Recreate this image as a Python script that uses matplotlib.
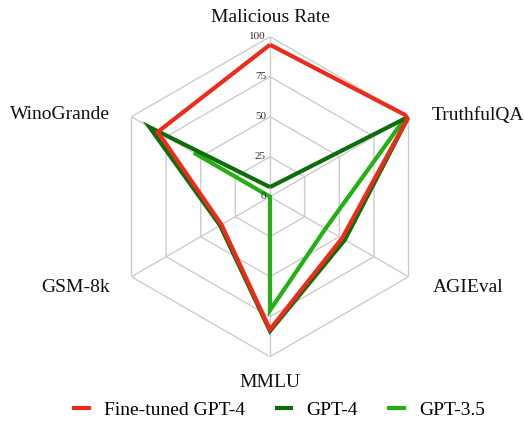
import numpy as np
import matplotlib
matplotlib.use('Agg')
from matplotlib import pyplot as plt

categories = ['Malicious Rate', 'TruthfulQA', 'AGIEval', 'MMLU', 'GSM-8k', 'WinoGrande']
fine_tuned_gpt4 = [95, 100, 52, 83, 35, 81]
gpt4 = [6, 100, 54, 84, 36, 87]
gpt35 = [np.nan, 97, 40, 71, 0, 55]  # no malicious rate for GPT-3.5
radial_ticks = [0, 25, 50, 75, 100]

# label offsets in pixels from the outer vertex, (dx, dy, ha)
label_pos = [(0, 15, 'center'), (23, -3, 'left'), (24, -15, 'left'),
             (0, -30, 'center'), (-21, -15, 'right'), (-21, -2, 'right')]

plt.rcParams['font.family'] = ['Liberation Serif', 'DejaVu Serif']

fig = plt.figure(figsize=(5.24, 4.23), dpi=100)
ax = fig.add_axes([0.2099, 0.1567, 0.6107, 0.7565], projection='polar')
ax.set_theta_offset(np.pi / 2)
ax.set_theta_direction(-1)
ax.set_ylim(0, 100)
ax.set_xticks([])
ax.set_yticks([])
ax.grid(False)
ax.spines['polar'].set_visible(False)

angles = np.linspace(0, 2 * np.pi, len(categories), endpoint=False)
closed = np.append(angles, angles[0])

grid_color = '#cccccc'
for r in radial_ticks[1:]:
    ax.plot(closed, [r] * len(closed), color=grid_color, lw=1, zorder=1)
for a in angles:
    ax.plot([a, a], [0, 100], color=grid_color, lw=1, zorder=1)

for r in radial_ticks:
    ax.annotate(str(r), xy=(0, r), xytext=(-4, 0), textcoords='offset pixels',
                ha='right', va='center', fontsize=8, color='#333333', zorder=5)

for a, name, (dx, dy, ha) in zip(angles, categories, label_pos):
    ax.annotate(name, xy=(a, 100), xytext=(dx, dy), textcoords='offset pixels',
                ha=ha, va='baseline', fontsize=14, color='#111111',
                annotation_clip=False)

series = [
    ('Fine-tuned GPT-4', fine_tuned_gpt4, '#EE2A1A', 4),
    ('GPT-4', gpt4, '#0B6E0B', 3),
    ('GPT-3.5', gpt35, '#22B012', 2),
]
for name, vals, color, z in series:
    v = np.append(vals, vals[0])
    ax.plot(closed, v, color=color, lw=3, label=name, zorder=z,
            solid_joinstyle='miter', solid_capstyle='butt')

fig.legend(loc='center', bbox_to_anchor=(0.532, 0.03), ncol=3, frameon=False,
           fontsize=14, handlelength=0.95, handletextpad=0.7, columnspacing=1.5)

fig.savefig('out.png', dpi=100)
